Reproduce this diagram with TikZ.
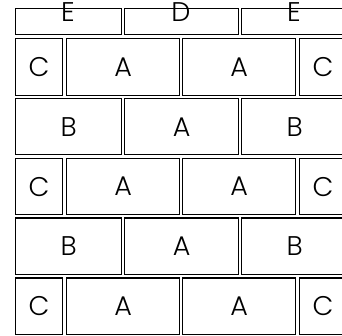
\documentclass[tikz,border=0pt]{standalone}
\usepackage{fontspec}
\setmainfont{Poppins}[UprightFont=* Light]
\begin{document}
\begin{tikzpicture}[x=1pt,y=-1pt,
  brick/.style={draw=black, line width=1.2pt, rectangle, inner sep=0pt, anchor=north west, font=\fontsize{27}{30}\selectfont},
  toplabel/.style={inner sep=0pt, font=\fontsize{27}{30}\selectfont}]
\clip (0,0) rectangle (342,336);
\fill[white] (0,0) rectangle (342,336);
% top row
\node[brick, minimum width=106pt, minimum height=26pt] (e1) at (15,8) {};
\node[brick, minimum width=114pt, minimum height=26pt] (d) at (124,8) {};
\node[brick, minimum width=106pt, minimum height=26pt] (e2) at (241,8) {};
\node[toplabel] (le1) at (68,12.5) {E};
\node[toplabel] (ld) at (181,12.5) {D};
\node[toplabel] (le2) at (294,12.5) {E};
% C A A C rows
\foreach \r/\y in {1/38.3, 3/157.8, 5/277.3}{
  \node[brick, minimum width=47pt, minimum height=56.3pt] (c\r a) at (15,\y) {C};
  \node[brick, minimum width=113pt, minimum height=56.3pt] (a\r a) at (66,\y) {A};
  \node[brick, minimum width=113pt, minimum height=56.3pt] (a\r b) at (182,\y) {A};
  \node[brick, minimum width=47pt, minimum height=56.3pt] (c\r b) at (299,\y) {C};
}
% B A B rows
\foreach \r/\y in {2/98, 4/217.5}{
  \node[brick, minimum width=106pt, minimum height=56.3pt] (b\r a) at (15,\y) {B};
  \node[brick, minimum width=114pt, minimum height=56.3pt] (a\r) at (124,\y) {A};
  \node[brick, minimum width=106pt, minimum height=56.3pt] (b\r b) at (241,\y) {B};
}
\end{tikzpicture}
\end{document}
